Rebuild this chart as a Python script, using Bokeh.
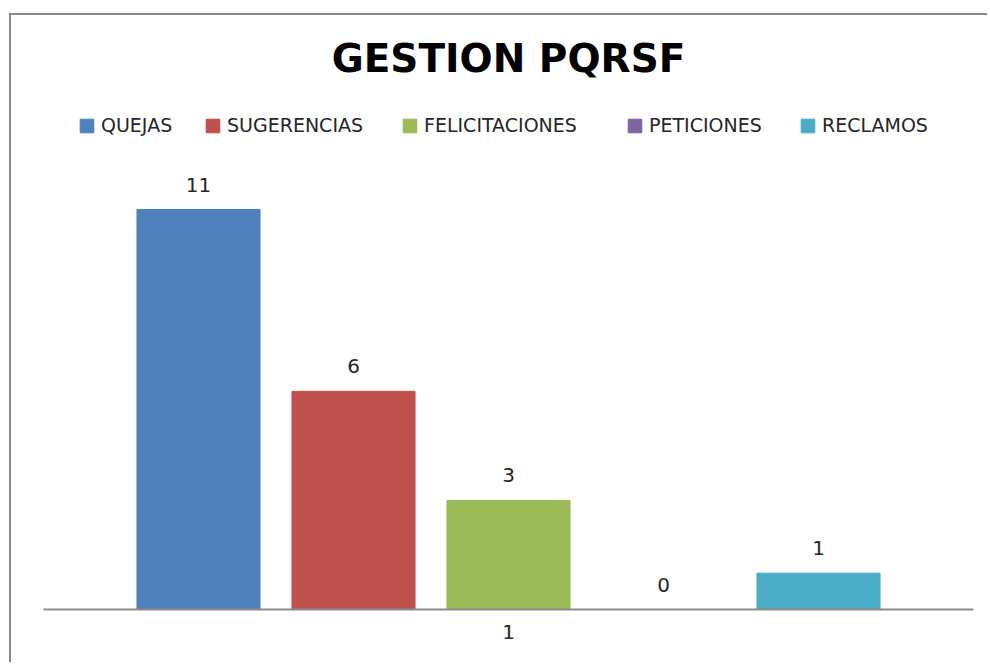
from bokeh.plotting import figure
from bokeh.models import (ColumnDataSource, Legend, LegendItem, LabelSet, Label,
                          Range1d, FixedTicker)
from bokeh.core.properties import value
from bokeh.embed import file_html
from bokeh.resources import INLINE

# ---- data ----
title_text = "GESTION PQRSF"
category_labels = ["1"]
series_names = ["QUEJAS", "SUGERENCIAS", "FELICITACIONES", "PETICIONES", "RECLAMOS"]
series_values = [11, 6, 3, 0, 1]
series_colors = ["#4F81BD", "#C0504D", "#9BBB59", "#8064A2", "#4BACC6"]

# ---- layout / style ----
FONT = "DejaVu Sans"
TEXT_COL = "#262626"
W, H = 978, 649
FRAME_LEFT, FRAME_RIGHT, FRAME_BOTTOM = 32, 16, 55
PX_PER_UNIT = 400 / 11.0

n = len(series_names)
positions = [i + 1 for i in range(n)]
center = sum(positions) / n
frame_h = H - FRAME_BOTTOM

src = ColumnDataSource(dict(
    x=positions, top=series_values, name=series_names, color=series_colors,
    label=[str(v) for v in series_values],
))

p = figure(width=W, height=H, output_backend="svg", toolbar_location=None,
           x_range=Range1d(0, n + 1), y_range=Range1d(0, frame_h / PX_PER_UNIT),
           min_border_left=FRAME_LEFT, min_border_right=FRAME_RIGHT,
           min_border_top=0, min_border_bottom=FRAME_BOTTOM,
           background_fill_color="white", border_fill_color="white",
           styles={"border-left": "2px solid #8c8c8c",
                   "border-top": "2px solid #8c8c8c",
                   "margin-left": "9px", "margin-top": "13px"})
p.outline_line_color = None
p.grid.visible = False
p.yaxis.visible = False

bars = p.vbar(x="x", top="top", width=0.794, color="color", source=src)

labels = LabelSet(x="x", y="top", text="label", source=src, y_offset=25,
                  text_align="center", text_baseline="middle",
                  text_font=value(FONT), text_font_size=value("20px"),
                  text_color=TEXT_COL)
p.add_layout(labels)

ax = p.xaxis[0]
ax.ticker = FixedTicker(ticks=[center])
ax.major_label_overrides = {center: category_labels[0]}
ax.major_tick_line_color = None
ax.minor_tick_line_color = None
ax.major_tick_out = 0
ax.major_tick_in = 0
ax.major_label_standoff = 15
ax.axis_line_color = "#8c8c8c"
ax.axis_line_width = 2
ax.major_label_text_font = FONT
ax.major_label_text_font_size = "20px"
ax.major_label_text_color = TEXT_COL

title = Label(x=center, y=551, y_units="screen", text=title_text,
              text_align="center", text_baseline="middle",
              text_font=FONT, text_font_size="39px", text_font_style="bold",
              text_color="black")
p.add_layout(title)

legend_x = [35, 161, 358, 583, 756]
for i, name in enumerate(series_names):
    lg = Legend(items=[LegendItem(label=name, renderers=[bars], index=i)],
                location=(legend_x[i], 473), orientation="horizontal",
                padding=0, margin=0, spacing=0, label_standoff=6,
                glyph_width=17, glyph_height=17, label_height=17,
                label_text_font=FONT, label_text_font_size="19px",
                label_text_color=TEXT_COL,
                border_line_alpha=0, background_fill_alpha=0)
    p.add_layout(lg)

open("out.html", "w").write(file_html(p, INLINE))
